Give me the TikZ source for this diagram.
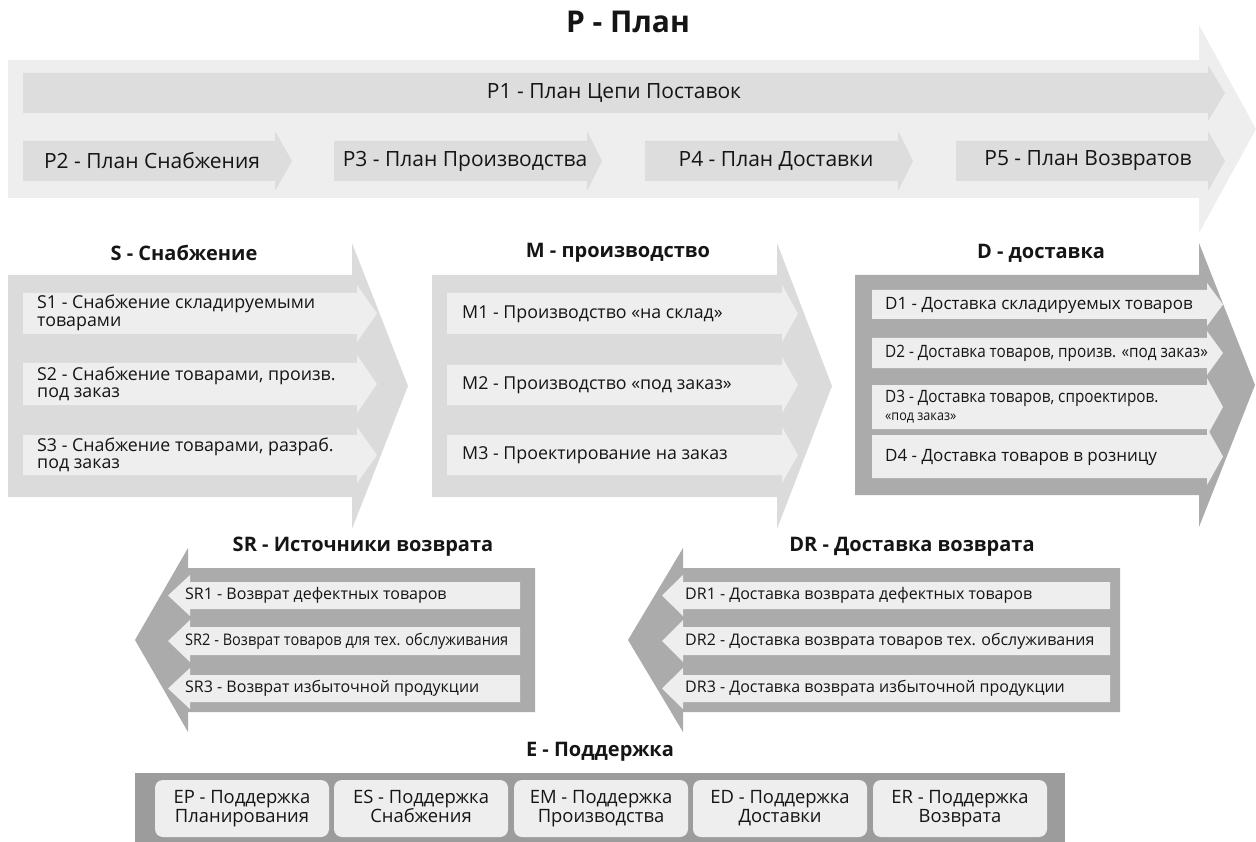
\documentclass[tikz,border=0pt]{standalone}
\usepackage{fontspec}
\setmainfont{Open Sans}
\newfontfamily\condfont[FakeStretch=0.9]{Open Sans}
\newfontfamily\condfontb[FakeStretch=0.91]{Open Sans}
\definecolor{pbg}{HTML}{EEEEEE}
\definecolor{pbar}{HTML}{DDDDDD}
\definecolor{smout}{HTML}{DBDBDB}
\definecolor{rowlt}{HTML}{EEEEEE}
\definecolor{dkout}{HTML}{ABABAB}
\definecolor{ebar}{HTML}{9C9C9C}
\definecolor{txt}{HTML}{151515}
% right arrow: fill, x1, y1, x2, y2, ext, tip
\newcommand\rarr[7]{\fill[#1] (#2,#3) -- (#4,#3) -- (#4,#3-#6) -- (#4+#7,{(#3+#5)/2}) -- (#4,#5+#6) -- (#4,#5) -- (#2,#5) -- cycle;}
% left arrow: fill, x1 (head base), y1, x2 (right end), y2, ext, tip
\newcommand\larr[7]{\fill[#1] (#4,#3) -- (#2,#3) -- (#2,#3-#6) -- (#2-#7,{(#3+#5)/2}) -- (#2,#5+#6) -- (#2,#5) -- (#4,#5) -- cycle;}
\tikzset{
  ptxt/.style={inner sep=0pt, text=txt, font=\fontsize{21}{24}\selectfont},
  ttl/.style={inner sep=0pt, text=txt, font=\bfseries\fontsize{20}{24}\selectfont},
  bigttl/.style={inner sep=0pt, text=txt, font=\bfseries\fontsize{30}{34}\selectfont},
  smtxt/.style={anchor=west, inner sep=0pt, align=left, text=txt, font=\fontsize{17.8}{17.6}\selectfont},
  dtxt/.style={anchor=west, inner sep=0pt, align=left, text=txt, font=\fontsize{17}{18}\selectfont},
  dctxt/.style={anchor=west, inner sep=0pt, align=left, text=txt, font=\condfont\fontsize{17}{18}\selectfont},
  rtxt/.style={anchor=west, inner sep=0pt, text=txt, font=\fontsize{16}{18}\selectfont},
  rctxt/.style={anchor=west, inner sep=0pt, text=txt, font=\condfontb\fontsize{16}{18}\selectfont},
  ebox/.style={fill=rowlt, rounded corners=8pt, minimum width=174pt, minimum height=57pt, inner sep=0pt, align=center, text=txt, font=\fontsize{18.4}{18.5}\selectfont},
}
\begin{document}
\begin{tikzpicture}[x=1pt,y=-1pt]
\useasboundingbox (0,0) rectangle (1256,842);
% ---------- P ----------
\node[bigttl] (ptitle) at (628,22) {P - План};
\rarr{pbg}{8}{60}{1199}{198}{35}{57}
\rarr{pbar}{23}{73}{1208}{113}{8}{17}
\rarr{pbar}{23}{141}{275}{181}{10}{17}
\rarr{pbar}{334}{141}{587}{181}{10}{15}
\rarr{pbar}{645}{141}{898}{181}{10}{15}
\rarr{pbar}{956}{141}{1208}{181}{10}{17}
\node[ptxt] (p1) at (614,93) {P1 - План Цепи Поставок};
\node[ptxt] (p2) at (152,161) {P2 - План Снабжения};
\node[ptxt] (p3) at (465,161) {P3 - План Производства};
\node[ptxt] (p4) at (776,161) {P4 - План Доставки};
\node[ptxt] (p5) at (1088,161) {P5 - План Возвратов};
% ---------- S ----------
\node[ttl] (stitle) at (184,253) {S - Снабжение};
\rarr{smout}{8}{275}{352}{497}{32}{56}
\rarr{rowlt}{23}{293}{357}{334}{8}{20}
\rarr{rowlt}{23}{363}{357}{405}{8}{20}
\rarr{rowlt}{23}{435}{357}{475}{8}{20}
\node[smtxt] (s1) at (37,313) {S1 - Снабжение складируемыми\\товарами};
\node[smtxt] (s2) at (37,384) {S2 - Снабжение товарами, произв.\\под заказ};
\node[smtxt] (s3) at (37,455) {S3 - Снабжение товарами, разраб.\\под заказ};
% ---------- M ----------
\node[ttl] (mtitle) at (618,253) {M - производство};
\rarr{smout}{432}{275}{777}{497}{32}{55}
\rarr{rowlt}{447}{293}{782}{334}{8}{16}
\rarr{rowlt}{447}{365}{782}{405}{8}{16}
\rarr{rowlt}{447}{435}{782}{475}{8}{16}
\node[smtxt] (m1) at (462,314) {M1 - Производство «на склад»};
\node[smtxt] (m2) at (462,385) {M2 - Производство «под заказ»};
\node[smtxt] (m3) at (462,455) {M3 - Проектирование на заказ};
% ---------- D ----------
\node[ttl] (dtitle) at (1041,253) {D - доставка};
\rarr{dkout}{855}{275}{1199}{495}{32}{56}
\rarr{rowlt}{872}{290}{1207}{319}{7}{16}
\rarr{rowlt}{872}{338}{1207}{368}{7}{16}
\rarr{rowlt}{872}{385}{1207}{429}{7}{16}
\rarr{rowlt}{872}{435}{1207}{478}{7}{16}
\node[dtxt] (d1) at (885,305) {D1 - Доставка складируемых товаров};
\node[dctxt] (d2) at (885,353) {D2 - Доставка товаров, произв. «под заказ»};
\node[dctxt] (d3) at (885,407) {D3 - Доставка товаров, спроектиров.\\{\fontsize{14}{15}\selectfont«под заказ»}};
\node[dtxt] (d4) at (885,457) {D4 - Доставка товаров в розницу};
% ---------- SR ----------
\node[ttl] (srtitle) at (363,547) {SR - Источники возврата};
\larr{dkout}{188}{568}{535}{712}{20}{53}
\larr{rowlt}{190}{582}{520}{609}{7}{22}
\larr{rowlt}{190}{627}{520}{655}{7}{22}
\larr{rowlt}{190}{675}{520}{702}{7}{22}
\node[rtxt] (sr1) at (185,595) {SR1 - Возврат дефектных товаров};
\node[rctxt] (sr2) at (185,641) {SR2 - Возврат товаров для тех. обслуживания};
\node[rtxt] (sr3) at (185,688) {SR3 - Возврат избыточной продукции};
% ---------- DR ----------
\node[ttl] (drtitle) at (912,547) {DR - Доставка возврата};
\larr{dkout}{683}{568}{1120}{712}{20}{55}
\larr{rowlt}{683}{582}{1110}{609}{7}{21}
\larr{rowlt}{683}{627}{1110}{655}{7}{21}
\larr{rowlt}{683}{675}{1110}{702}{7}{21}
\node[rtxt] (dr1) at (685,595) {DR1 - Доставка возврата дефектных товаров};
\node[rtxt] (dr2) at (685,641) {DR2 - Доставка возврата товаров тех. обслуживания};
\node[rtxt] (dr3) at (685,688) {DR3 - Доставка возврата избыточной продукции};
% ---------- E ----------
\node[ttl] (etitle) at (600,752) {E - Поддержка};
\fill[ebar] (135,773) rectangle (1065,842);
\node[ebox] (ep) at (242,808.5) {EP - Поддержка\\Планирования};
\node[ebox] (es) at (421,808.5) {ES - Поддержка\\Снабжения\vphantom{р}};
\node[ebox] (em) at (601,808.5) {EM - Поддержка\\Производства};
\node[ebox] (ed) at (780,808.5) {ED - Поддержка\\Доставки\vphantom{р}};
\node[ebox] (er) at (960,808.5) {ER - Поддержка\\Возврата};
\end{tikzpicture}
\end{document}
